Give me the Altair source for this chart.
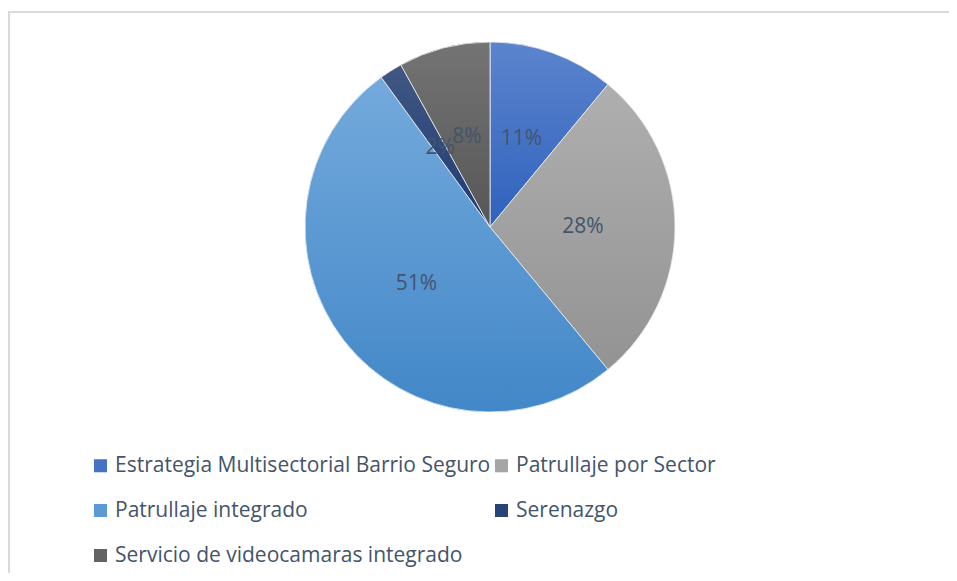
import altair as alt
import pandas as pd

categories = [
    "Estrategia Multisectorial Barrio Seguro",
    "Patrullaje por Sector",
    "Patrullaje integrado",
    "\u00a0Serenazgo",
    "\u00a0Servicio de videocamaras integrado",
]
values = [11, 28, 51, 2, 8]
colors_mid = ["#4472C4", "#A5A5A5", "#5B9BD5", "#264478", "#636363"]
colors_top = ["#5C84CD", "#AFAFAF", "#74AADC", "#415883", "#747474"]
colors_bot = ["#2F62BD", "#939393", "#4287C8", "#1E3A74", "#565656"]

df = pd.DataFrame({"cat": categories, "value": values, "idx": list(range(len(values)))})

W, H = 941, 565
CX, CY, R = 482, 219, 185
TEXT = "#44546A"
FONT = "Open Sans"

theta_scale = alt.Scale(domain=[0, 1], range=[0, 6.283185307179586])


def base():
    return (
        alt.Chart(df)
        .transform_joinaggregate(total="sum(value)")
        .transform_window(cum="sum(value)", sort=[alt.SortField("idx")], frame=[None, 0])
        .transform_calculate(
            t1="datum.cum / datum.total",
            t0="(datum.cum - datum.value) / datum.total",
            tm="(datum.cum - datum.value / 2) / datum.total",
            lbl="format(datum.value / datum.total, '.0%')",
        )
    )


arcs = base().mark_arc(radius=R).encode(
    x=alt.value(CX),
    y=alt.value(CY),
    theta=alt.Theta("t0:Q", scale=theta_scale),
    theta2="t1:Q",
    color=alt.Color(
        "cat:N",
        scale=alt.Scale(domain=categories, range=colors_mid),
        sort=categories,
        legend=alt.Legend(
            orient="none",
            legendX=82,
            legendY=447,
            columns=2,
            direction="horizontal",
            title=None,
            symbolType="square",
            symbolSize=170,
            symbolStrokeWidth=0,
            symbolOpacity=1,
            labelFontSize=21,
            labelFont=FONT,
            labelColor=TEXT,
            labelLimit=600,
            rowPadding=23,
            columnPadding=0,
            labelOffset=4,
        ),
    ),
)

layers = [arcs]
for i, c in enumerate(categories):
    grad = alt.Gradient(
        gradient="linear",
        x1=0, y1=0, x2=0, y2=1,
        stops=[
            alt.GradientStop(color=colors_top[i], offset=0),
            alt.GradientStop(color=colors_bot[i], offset=1),
        ],
    )
    layers.append(
        base()
        .transform_filter(alt.datum.idx == i)
        .mark_arc(radius=R, fill=grad, stroke="#F2F2F2", strokeWidth=0.8)
        .encode(
            x=alt.value(CX),
            y=alt.value(CY),
            theta=alt.Theta("t0:Q", scale=theta_scale),
            theta2="t1:Q",
        )
    )

labels = base().mark_text(radius=93, font=FONT, fontSize=21, color=TEXT).encode(
    x=alt.value(CX),
    y=alt.value(CY),
    theta=alt.Theta("tm:Q", scale=theta_scale),
    text="lbl:N",
)
layers.append(labels)

frame_top = alt.Chart(df).mark_rule(color="#D9D9D9", strokeWidth=1.5).encode(
    x=alt.value(0), x2=alt.value(W), y=alt.value(4)
)
frame_left = alt.Chart(df).mark_rule(color="#D9D9D9", strokeWidth=1.5).encode(
    x=alt.value(0.75), y=alt.value(4), y2=alt.value(H)
)
layers += [frame_top, frame_left]

chart = (
    alt.layer(*layers)
    .properties(width=W, height=H, autosize=alt.AutoSizeParams(type="none"), padding=0)
    .configure_view(stroke=None)
)

chart.save("out.html", embed_options={"renderer": "svg", "actions": False})
